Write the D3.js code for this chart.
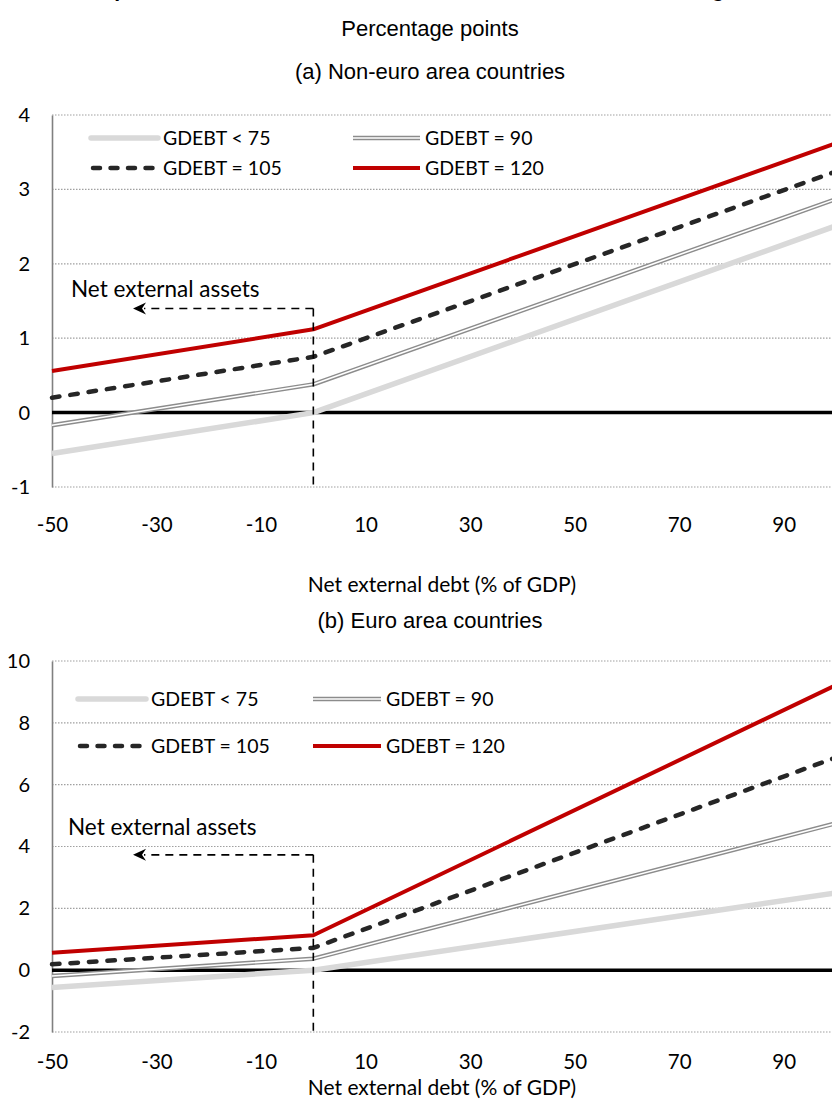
<!DOCTYPE html>
<html><head><meta charset="utf-8">
<script src="https://cdn.jsdelivr.net/npm/d3@7"></script>
<style>body{margin:0;background:#fff} svg{display:block}</style>
</head><body>
<svg id="chart" width="832" height="1099"></svg>
<script>
// ---------- data ----------
const xValues = [-50, 0, 100];
const seriesNames = ["GDEBT < 75", "GDEBT = 90", "GDEBT = 105", "GDEBT = 120"];
const nonEuroLow = [-0.55, 0.00, 2.51];
const nonEuro90 = [-0.17, 0.38, 2.87];
const nonEuro105 = [0.20, 0.75, 3.24];
const nonEuro120 = [0.56, 1.12, 3.62];
const euroLow = [-0.56, 0.00, 2.50];
const euro90 = [-0.19, 0.37, 4.75];
const euro105 = [0.19, 0.72, 6.88];
const euro120 = [0.56, 1.13, 9.22];
const xTickLabels = [-50, -30, -10, 10, 30, 50, 70, 90];
const yTicksNonEuro = [-1, 0, 1, 2, 3, 4];
const yTicksEuro = [-2, 0, 2, 4, 6, 8, 10];
const titleText = "Chart 5. Impact of net external debt on interest rates and the role of large debt";
const unitText = "Percentage points";
const panelTitles = ["(a) Non-euro area countries", "(b) Euro area countries"];
const xAxisTitle = "Net external debt (% of GDP)";
const annotationText = "Net external assets";

// ---------- layout / styles ----------
const svg = d3.select("#chart");
const calib = "Lato, 'Noto Sans', sans-serif";
const arial = "'Liberation Sans', Arial, sans-serif";
const x = d3.scaleLinear().domain([-50, 100]).range([52, 836]);
const fmt = d => String(d);

const styles = [
  {color: "#d9d9d9", width: 5.5},
  {color: "#8c8c8c", width: 4.4, inner: 1.6},
  {color: "#262626", width: 4.5, dash: "7.5,11", cap: "round"},
  {color: "#c00000", width: 4}
];

const panels = [
  {title: panelTitles[0], titleY: 79, top: 115, bottom: 487, domain: [-1, 4], ticks: yTicksNonEuro,
   series: [nonEuroLow, nonEuro90, nonEuro105, nonEuro120], xLabPad: 30, xTitleY: 592,
   legRows: [138, 168], legCols: [[91, 158], [353, 420]], annY: 1.4, annTextY: 297, annTextX: 71},
  {title: panelTitles[1], titleY: 628, top: 661, bottom: 1032, domain: [-2, 10], ticks: yTicksEuro,
   series: [euroLow, euro90, euro105, euro120], xLabPad: 22, xTitleY: 1095,
   legRows: [699, 746], legCols: [[78, 146], [313, 381]], annY: 3.73, annTextY: 835, annTextX: 68}
];

// cropped main title (only the bottom of it shows)
svg.append("text").attr("x", 5).attr("y", -3)
  .attr("textLength", 782).attr("lengthAdjust", "spacingAndGlyphs")
  .style("font-family", arial).style("font-weight", "bold").style("font-size", "20px")
  .text(titleText);

svg.append("text").attr("x", 430).attr("y", 36).attr("text-anchor", "middle")
  .style("font-family", arial).style("font-size", "22px").text(unitText);

function drawArrowHead(g, tx, ty) {
  g.append("path")
    .attr("d", `M${tx},${ty} L${tx + 13},${ty - 6} L${tx + 9},${ty} L${tx + 13},${ty + 6} Z`)
    .attr("fill", "#000");
}

panels.forEach(p => {
  const y = d3.scaleLinear().domain(p.domain).range([p.bottom, p.top]);
  const g = svg.append("g");

  g.append("text").attr("x", 430).attr("y", p.titleY).attr("text-anchor", "middle")
    .style("font-family", arial).style("font-size", "22px").text(p.title);

  // gridlines
  g.selectAll(".grid").data(p.ticks).join("line")
    .attr("x1", x(-50)).attr("x2", x(100))
    .attr("y1", d => y(d)).attr("y2", d => y(d))
    .attr("stroke", "#a0a0a0").attr("stroke-width", 1.2).attr("stroke-dasharray", "1.5,1.5");

  // y axis
  const yAxis = d3.axisLeft(y).tickValues(p.ticks).tickSize(0).tickPadding(22).tickFormat(fmt);
  const ya = g.append("g").attr("transform", `translate(${x(-50)},0)`).call(yAxis);
  ya.select(".domain").attr("stroke", "#808080").attr("stroke-width", 1.6);
  ya.selectAll("text").style("font-family", calib).style("font-size", "20px").attr("fill", "#000");

  // x axis (labels at bottom)
  const xAxis = d3.axisBottom(x).tickValues(xTickLabels).tickSize(0).tickPadding(p.xLabPad).tickFormat(fmt);
  const xa = g.append("g").attr("transform", `translate(0,${p.bottom})`).call(xAxis);
  xa.select(".domain").remove();
  xa.selectAll("text").style("font-family", calib).style("font-size", "20.5px").attr("fill", "#000");

  g.append("text").attr("x", 442).attr("y", p.xTitleY).attr("text-anchor", "middle")
    .style("font-family", calib).style("font-size", "21px").text(xAxisTitle);

  // zero line
  g.append("line").attr("x1", x(-50)).attr("x2", x(100)).attr("y1", y(0)).attr("y2", y(0))
    .attr("stroke", "#000").attr("stroke-width", 3.5);

  // series
  const line = d3.line().x((d, i) => x(xValues[i])).y(d => y(d));
  p.series.forEach((vals, k) => {
    const s = styles[k];
    g.append("path").datum(vals).attr("d", line).attr("fill", "none")
      .attr("stroke", s.color).attr("stroke-width", s.width)
      .attr("stroke-dasharray", s.dash || null).attr("stroke-linecap", s.cap || "butt")
      .attr("stroke-linejoin", "round");
    if (s.inner) {
      g.append("path").datum(vals).attr("d", line).attr("fill", "none")
        .attr("stroke", "#fff").attr("stroke-width", s.inner).attr("stroke-linejoin", "round");
    }
  });

  // legend
  seriesNames.forEach((name, k) => {
    const s = styles[k];
    const row = p.legRows[Math.floor(k / 2)];
    const col = p.legCols[k % 2];
    const cap = s.cap || (k === 0 ? "round" : "butt");
    g.append("line").attr("x1", col[0] + (s.cap ? 2 : 0)).attr("x2", col[1] - (s.cap ? 2 : 0)).attr("y1", row).attr("y2", row)
      .attr("stroke", s.color).attr("stroke-width", s.width)
      .attr("stroke-dasharray", s.dash ? "7,10.5" : null).attr("stroke-linecap", cap);
    if (s.inner) {
      g.append("line").attr("x1", col[0]).attr("x2", col[1]).attr("y1", row).attr("y2", row)
        .attr("stroke", "#fff").attr("stroke-width", s.inner);
    }
    g.append("text").attr("x", col[1] + 5).attr("y", row).attr("dy", "0.36em")
      .style("font-family", calib).style("font-size", "19.5px").text(name);
  });

  // annotation: net external assets
  const ay = y(p.annY);
  g.append("line").attr("x1", x(0)).attr("x2", x(0)).attr("y1", ay).attr("y2", p.bottom)
    .attr("stroke", "#000").attr("stroke-width", 1.6).attr("stroke-dasharray", "8,6");
  g.append("line").attr("x1", x(0)).attr("x2", 144).attr("y1", ay).attr("y2", ay)
    .attr("stroke", "#000").attr("stroke-width", 1.6).attr("stroke-dasharray", "8,6");
  drawArrowHead(g, 133, ay);
  g.append("text").attr("x", p.annTextX).attr("y", p.annTextY)
    .style("font-family", calib).style("font-size", "22.5px").text(annotationText);
});
</script>
</body></html>
